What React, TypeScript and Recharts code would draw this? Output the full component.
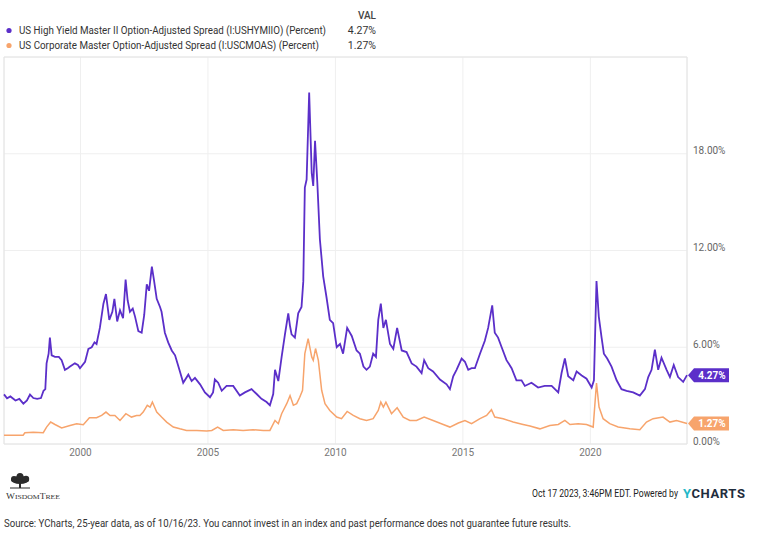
import React from 'react'
import { LineChart, Line, XAxis, YAxis, CartesianGrid, ReferenceArea } from 'recharts'

// decimal years and spreads (%)
const hyYears = [
  1997.0, 1997.12, 1997.25, 1997.45, 1997.6, 1997.76, 1997.9, 1998.02, 1998.15, 1998.3, 1998.45, 1998.55,
  1998.62, 1998.67, 1998.75, 1998.8, 1998.87, 1999.0, 1999.15, 1999.26, 1999.39, 1999.5, 1999.59, 1999.78,
  1999.9, 1999.98, 2000.18, 2000.31, 2000.44, 2000.55, 2000.63, 2000.76, 2000.9, 2001.0, 2001.13, 2001.25,
  2001.33, 2001.44, 2001.55, 2001.67, 2001.77, 2001.85, 2001.94, 2002.05, 2002.14, 2002.27, 2002.4, 2002.5,
  2002.6, 2002.69, 2002.8, 2002.88, 2002.99, 2003.12, 2003.18, 2003.31, 2003.44, 2003.58, 2003.71, 2003.88,
  2004.03, 2004.23, 2004.36, 2004.49, 2004.69, 2004.88, 2005.08, 2005.2, 2005.27, 2005.4, 2005.54, 2005.73,
  2005.99, 2006.25, 2006.45, 2006.71, 2006.91, 2007.1, 2007.3, 2007.43, 2007.56, 2007.63, 2007.76, 2007.89,
  2008.02, 2008.15, 2008.22, 2008.28, 2008.41, 2008.54, 2008.67, 2008.74, 2008.8, 2008.87, 2008.97, 2009.07,
  2009.13, 2009.2, 2009.29, 2009.39, 2009.52, 2009.65, 2009.78, 2009.91, 2010.05, 2010.18, 2010.3, 2010.46,
  2010.64, 2010.83, 2010.96, 2011.1, 2011.22, 2011.35, 2011.48, 2011.59, 2011.68, 2011.78, 2011.88, 2011.98,
  2012.14, 2012.27, 2012.42, 2012.6, 2012.79, 2012.99, 2013.18, 2013.38, 2013.48, 2013.64, 2013.83, 2014.1,
  2014.36, 2014.49, 2014.62, 2014.75, 2014.95, 2015.08, 2015.21, 2015.34, 2015.47, 2015.67, 2015.86, 2015.99,
  2016.15, 2016.25, 2016.38, 2016.52, 2016.71, 2016.91, 2017.1, 2017.3, 2017.43, 2017.69, 2017.95, 2018.21,
  2018.48, 2018.74, 2018.87, 2019.0, 2019.13, 2019.33, 2019.46, 2019.66, 2019.85, 2020.05, 2020.14, 2020.24,
  2020.33, 2020.44, 2020.53, 2020.66, 2020.83, 2021.03, 2021.22, 2021.42, 2021.68, 2021.94, 2022.14, 2022.27,
  2022.4, 2022.53, 2022.66, 2022.79, 2022.99, 2023.12, 2023.27, 2023.44, 2023.64, 2023.79,
]
const hyValues = [
  3.08, 2.83, 2.95, 2.7, 2.8, 2.5, 2.7, 3.07, 2.85, 2.8, 2.85, 3.3,
  3.4, 5.0, 5.6, 6.6, 5.5, 5.4, 5.4, 5.2, 4.6, 4.7, 4.8, 5.0,
  4.9, 4.7, 5.1, 5.9, 6.0, 6.3, 6.2, 7.2, 8.7, 9.3, 7.7, 8.2,
  9.0, 7.6, 8.3, 7.8, 10.2, 8.9, 8.2, 8.4, 7.9, 7.0, 6.9, 8.0,
  9.9, 9.5, 11.0, 10.2, 9.0, 8.5, 8.2, 6.9, 6.3, 5.8, 5.5, 4.6,
  3.8, 4.3, 3.9, 4.1, 3.7, 3.2, 2.9, 3.2, 4.0, 3.8, 3.3, 3.6,
  3.6, 3.0, 3.2, 3.4, 3.1, 2.8, 2.6, 2.4, 3.1, 4.6, 3.9, 5.4,
  6.8, 8.1, 7.3, 6.8, 6.6, 8.1, 8.5, 10.1, 15.9, 16.4, 21.8, 16.8,
  16.0, 18.8, 16.2, 12.7, 10.4, 9.1, 7.7, 7.5, 6.0, 6.2, 5.6, 7.2,
  6.7, 5.8, 5.6, 4.8, 4.6, 4.8, 5.6, 5.4, 7.7, 8.7, 7.2, 7.7,
  6.2, 5.9, 7.2, 5.8, 5.7, 5.0, 4.8, 4.4, 5.2, 4.7, 4.5, 4.0,
  3.7, 3.4, 4.2, 4.6, 5.3, 5.1, 4.6, 4.7, 4.7, 5.6, 6.4, 7.2,
  8.6, 6.9, 6.6, 6.0, 5.2, 4.7, 3.95, 3.95, 3.6, 3.8, 3.5, 3.6,
  3.6, 3.2, 4.4, 5.3, 4.2, 3.95, 4.5, 4.25, 4.05, 3.5, 3.95, 10.1,
  7.9, 6.6, 5.6, 5.3, 4.8, 3.95, 3.4, 3.3, 3.2, 3.0, 3.4, 4.15,
  4.6, 5.85, 4.6, 5.35, 4.6, 4.15, 4.9, 4.15, 3.85, 4.27,
]
const igYears = [
  1997.0, 1997.4, 1997.75, 1997.82, 1998.15, 1998.54, 1998.67, 1998.83, 1999.0, 1999.26, 1999.59, 1999.85,
  2000.11, 2000.35, 2000.63, 2000.83, 2001.0, 2001.16, 2001.35, 2001.55, 2001.78, 2002.0, 2002.2, 2002.33,
  2002.46, 2002.62, 2002.73, 2002.82, 2002.99, 2003.18, 2003.38, 2003.64, 2003.9, 2004.16, 2004.56, 2004.95,
  2005.15, 2005.38, 2005.6, 2005.99, 2006.38, 2006.77, 2007.17, 2007.43, 2007.63, 2007.76, 2007.89, 2008.09,
  2008.22, 2008.35, 2008.48, 2008.6, 2008.71, 2008.8, 2008.93, 2009.07, 2009.13, 2009.22, 2009.33, 2009.46,
  2009.59, 2009.78, 2010.05, 2010.24, 2010.46, 2010.7, 2010.96, 2011.22, 2011.48, 2011.68, 2011.78, 2011.88,
  2011.98, 2012.2, 2012.42, 2012.66, 2012.92, 2013.18, 2013.48, 2013.83, 2014.23, 2014.49, 2014.82, 2015.08,
  2015.34, 2015.67, 2015.93, 2016.12, 2016.25, 2016.58, 2016.97, 2017.36, 2017.63, 2018.02, 2018.41, 2018.74,
  2019.0, 2019.2, 2019.52, 2019.85, 2020.11, 2020.24, 2020.34, 2020.5, 2020.76, 2021.09, 2021.55, 2021.94,
  2022.2, 2022.46, 2022.85, 2023.12, 2023.38, 2023.79,
]
const igValues = [
  0.55, 0.55, 0.55, 0.7, 0.73, 0.7, 1.05, 1.36, 1.21, 1.0, 1.15, 1.26,
  1.19, 1.63, 1.63, 1.77, 1.98, 1.77, 1.77, 1.46, 1.88, 1.67, 1.77, 1.77,
  1.98, 2.4, 2.29, 2.6, 1.98, 1.67, 1.36, 1.05, 0.94, 0.84, 0.84, 0.8,
  0.84, 1.05, 0.84, 0.88, 0.84, 0.88, 0.84, 0.84, 1.46, 1.26, 1.88, 2.5,
  3.0, 2.4, 2.5, 2.9, 3.33, 5.6, 6.54, 5.4, 5.19, 5.92, 5.19, 3.33,
  2.5, 2.08, 1.67, 1.57, 2.02, 1.77, 1.57, 1.46, 1.57, 2.08, 2.6, 2.29,
  2.6, 1.88, 2.25, 1.67, 1.46, 1.46, 1.67, 1.46, 1.21, 1.05, 1.3, 1.46,
  1.26, 1.57, 1.77, 2.13, 1.67, 1.57, 1.36, 1.21, 1.11, 0.94, 1.15, 1.21,
  1.46, 1.21, 1.26, 1.21, 1.05, 3.78, 2.29, 1.57, 1.26, 1.05, 0.94, 0.88,
  1.36, 1.57, 1.67, 1.36, 1.46, 1.27,
]

const xTicks = [2000, 2005, 2010, 2015, 2020]
const yTicks = [0, 6, 12, 18]
const seriesNames = [
  'US High Yield Master II Option-Adjusted Spread (I:USHYMIIO) (Percent)',
  'US Corporate Master Option-Adjusted Spread (I:USCMOAS) (Percent)',
]
const latestValues = ['4.27%', '1.27%']
const seriesColors = ['#5b2fc9', '#f7a46c']

const hyData = hyYears.map((x, i) => ({ x, v: hyValues[i] }))
const igData = igYears.map((x, i) => ({ x, v: igValues[i] }))

const X_MIN = 1997.0
const X_MAX = 2023.79
const NARROW = 0.85 // the reference uses a condensed face

const endTag = (color: string, text: string, lastIndex: number) => (props: any) => {
  const { x, y, index } = props
  if (index !== lastIndex) return null
  const tx = x + 1
  return (
    <g>
      <path
        d={`M${tx},${y} L${tx + 6},${y - 7} L${tx + 41},${y - 7} L${tx + 41},${y + 7} L${tx + 6},${y + 7} Z`}
        fill={color}
      />
      <text x={tx + 24} y={y} dy="0.36em" textAnchor="middle" fill="#fff" fontSize={10} fontWeight={700} fontFamily="Roboto">
        {text}
      </text>
    </g>
  )
}

// narrow text: squeezed with a transform so its box is the real one
function Narrow({ x, y, width, size = 10.5, fill = '#333', children }: any) {
  return (
    <g transform={`translate(${x},${y}) scale(${NARROW},1)`}>
      <text x={0} y={0} dy="0.35em" fontSize={size} fill={fill} fontFamily="Roboto" textLength={width / NARROW} lengthAdjust="spacingAndGlyphs">
        {children}
      </text>
    </g>
  )
}

function TreeLogo() {
  return (
    <g fill="#2b2b2b">
      <ellipse cx={20} cy={480} rx={9} ry={4} />
      <circle cx={14} cy={479} r={3} />
      <circle cx={26} cy={479} r={3.2} />
      <circle cx={20} cy={476.5} r={3.5} />
      <rect x={19} y={482} width={2} height={6} />
      <rect x={10} y={487.5} width={20} height={1} />
    </g>
  )
}

export default function App() {
  const font = 'Roboto, "Noto Sans", sans-serif'
  return (
    <div style={{ position: 'absolute', left: 0, top: 0, width: 758, height: 540, background: '#fff', fontFamily: font }}>
      <LineChart width={758} height={470} margin={{ top: 57, right: 0, left: 4, bottom: 0 }}>
        <CartesianGrid stroke="#efefef" />
        <ReferenceArea x1={X_MIN} x2={X_MAX} y1={0} y2={24} fill="none" stroke="#e4e4e4" strokeWidth={1} />
        <XAxis
          dataKey="x"
          type="number"
          domain={[X_MIN, X_MAX]}
          ticks={xTicks}
          tickLine={false}
          axisLine={false}
          tickSize={0}
          tickMargin={5}
          height={26}
          tick={{ fill: '#777', fontSize: 10, fontFamily: font }}
        />
        <YAxis
          orientation="right"
          type="number"
          domain={[0, 24]}
          ticks={yTicks}
          tickFormatter={(v: number) => v.toFixed(2) + '%'}
          tickLine={false}
          axisLine={false}
          tickSize={0}
          tickMargin={6}
          width={71}
          tick={{ fill: '#666', fontSize: 10, fontFamily: font, dy: -3 }}
        />
        <Line
          data={igData}
          dataKey="v"
          type="linear"
          stroke={seriesColors[1]}
          strokeWidth={1.5}
          dot={false}
          isAnimationActive={false}
          label={endTag(seriesColors[1], latestValues[1], igData.length - 1)}
        />
        <Line
          data={hyData}
          dataKey="v"
          type="linear"
          stroke={seriesColors[0]}
          strokeWidth={1.8}
          dot={false}
          isAnimationActive={false}
          label={endTag(seriesColors[0], latestValues[0], hyData.length - 1)}
        />
      </LineChart>

      <svg width={758} height={540} style={{ position: 'absolute', left: 0, top: 0, pointerEvents: 'none' }}>
        <text x={376} y={15} dy="0.35em" textAnchor="end" fontSize={10} fontWeight={500} fill="#444" fontFamily={font}>
          VAL
        </text>
        {seriesNames.map((name, i) => (
          <g key={name}>
            <circle cx={9} cy={30.5 + i * 15} r={2.6} fill={seriesColors[i]} />
            <Narrow x={19} y={30.5 + i * 15} width={i === 0 ? 307 : 300}>
              {name}
            </Narrow>
            <text x={376} y={30.5 + i * 15} dy="0.35em" textAnchor="end" fontSize={10.5} fill="#333" fontFamily={font}>
              {latestValues[i]}
            </text>
          </g>
        ))}

        <TreeLogo />
        <text x={6} y={496} dy="0.35em" fontSize={8} fill="#333" fontFamily='"Liberation Serif", serif' textLength={54} lengthAdjust="spacingAndGlyphs">
          W<tspan fontSize={6.5}>ISDOM</tspan>T<tspan fontSize={6.5}>REE</tspan>
        </text>

        <Narrow x={532} y={493} width={146} fill="#222">
          Oct 17 2023, 3:46PM EDT. Powered by
        </Narrow>
        <text x={683} y={493} dy="0.36em" fontSize={13} fontWeight={700} fontFamily={font} letterSpacing={0.6}>
          <tspan fill="#22b8c8">Y</tspan>
          <tspan fill="#1f2d3d">CHARTS</tspan>
        </text>

        <Narrow x={4} y={523} width={567}>
          Source: YCharts, 25-year data, as of 10/16/23. You cannot invest in an index and past performance does not guarantee future results.
        </Narrow>
      </svg>
    </div>
  )
}
